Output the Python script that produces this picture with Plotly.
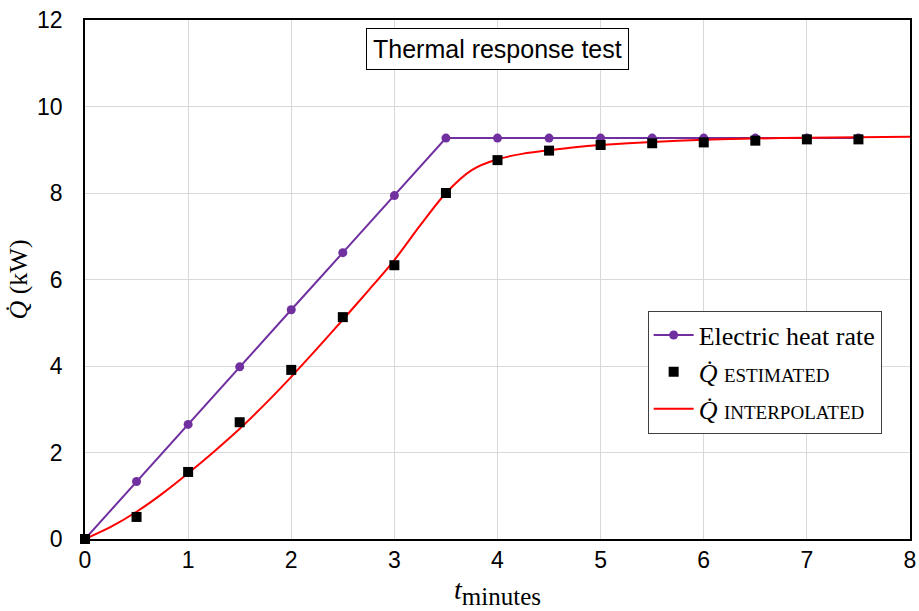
import plotly.graph_objects as go

# Data
t_elec = [0, 0.5, 1, 1.5, 2, 2.5, 3, 3.5, 4, 4.5, 5, 5.5, 6, 6.5, 7, 7.5]
q_elec = [0, 1.33, 2.65, 3.98, 5.30, 6.62, 7.94, 9.27, 9.27, 9.27, 9.27, 9.27, 9.27, 9.27, 9.27, 9.27]

t_est = [0, 0.5, 1, 1.5, 2, 2.5, 3, 3.5, 4, 4.5, 5, 5.5, 6, 6.5, 7, 7.5]
q_est = [0, 0.51, 1.55, 2.70, 3.91, 5.13, 6.33, 8.00, 8.76, 8.98, 9.11, 9.15, 9.17, 9.21, 9.24, 9.24]

t_int = [0, 0.25, 0.5, 0.75, 1, 1.25, 1.5, 1.75, 2, 2.25, 2.5, 2.75, 3, 3.25, 3.5,
         3.75, 4, 4.25, 4.5, 4.75, 5, 5.5, 6, 6.5, 7, 7.5, 8]
q_int = [0, 0.28, 0.63, 1.05, 1.52, 2.02, 2.55, 3.13, 3.75, 4.40, 5.07, 5.75, 6.45, 7.25, 8.00,
         8.53, 8.78, 8.91, 8.99, 9.06, 9.11, 9.18, 9.23, 9.26, 9.28, 9.29, 9.30]

x_ticks = [0, 1, 2, 3, 4, 5, 6, 7, 8]
y_ticks = [0, 2, 4, 6, 8, 10, 12]

serif = "Liberation Serif, DejaVu Serif, serif"
sans = "Liberation Sans, Arial, sans-serif"
qdot = "<i>Q&#775;</i>"

fig = go.Figure()
fig.add_trace(go.Scatter(
    x=t_elec, y=q_elec, mode="lines+markers", name="Electric heat rate",
    line=dict(color="#7030A0", width=2),
    marker=dict(symbol="circle", size=9, color="#7030A0"),
    cliponaxis=False, legendrank=1,
))
fig.add_trace(go.Scatter(
    x=t_int, y=q_int, mode="lines",
    name=qdot + " <span style='font-size:19px'>INTERPOLATED</span>",
    line=dict(color="#FF0000", width=2, shape="spline", smoothing=0.8),
    cliponaxis=False, legendrank=3,
))
fig.add_trace(go.Scatter(
    x=t_est, y=q_est, mode="markers",
    name=qdot + " <span style='font-size:19px'>ESTIMATED</span>",
    marker=dict(symbol="square", size=10, color="#000000"),
    cliponaxis=False, legendrank=2,
))

fig.add_annotation(
    x=4, y=11.33, xref="x", yref="y",
    text="Thermal response test", showarrow=False,
    font=dict(family=sans, size=25, color="#000000"),
    bordercolor="#000000", borderwidth=1, borderpad=6, bgcolor="#ffffff",
)

fig.update_layout(
    width=919, height=611,
    margin=dict(l=85, r=9, t=20, b=72),
    plot_bgcolor="#ffffff", paper_bgcolor="#ffffff",
    showlegend=True,
    legend=dict(
        x=0.682, y=0.44, xanchor="left", yanchor="top",
        bgcolor="#ffffff", bordercolor="#404040", borderwidth=1,
        font=dict(family=serif, size=26, color="#000000"),
        tracegroupgap=0, itemwidth=40,
    ),
    xaxis=dict(
        range=[0, 8], tickvals=x_ticks, ticktext=[str(v) for v in x_ticks],
        showgrid=True, gridcolor="#d9d9d9", gridwidth=1,
        showline=True, linecolor="#000000", linewidth=1.5, mirror=True,
        ticks="", zeroline=False, automargin=False,
        tickfont=dict(family=sans, size=23, color="#000000"),
        title=dict(text="<i>t</i><sub><span style='font-size:25px'>minutes</span></sub>",
                   font=dict(family=serif, size=28, color="#000000"), standoff=7),
    ),
    yaxis=dict(
        range=[0, 12], tickvals=y_ticks, ticktext=[str(v) for v in y_ticks],
        showgrid=True, gridcolor="#d9d9d9", gridwidth=1,
        showline=True, linecolor="#000000", linewidth=1.5, mirror=True,
        ticks="", zeroline=False, automargin=False, ticklabelstandoff=16,
        tickfont=dict(family=sans, size=23, color="#000000"),
        title=dict(text=qdot + " (kW)", font=dict(family=serif, size=26, color="#000000"), standoff=2),
    ),
)

fig.write_html("out.html")
